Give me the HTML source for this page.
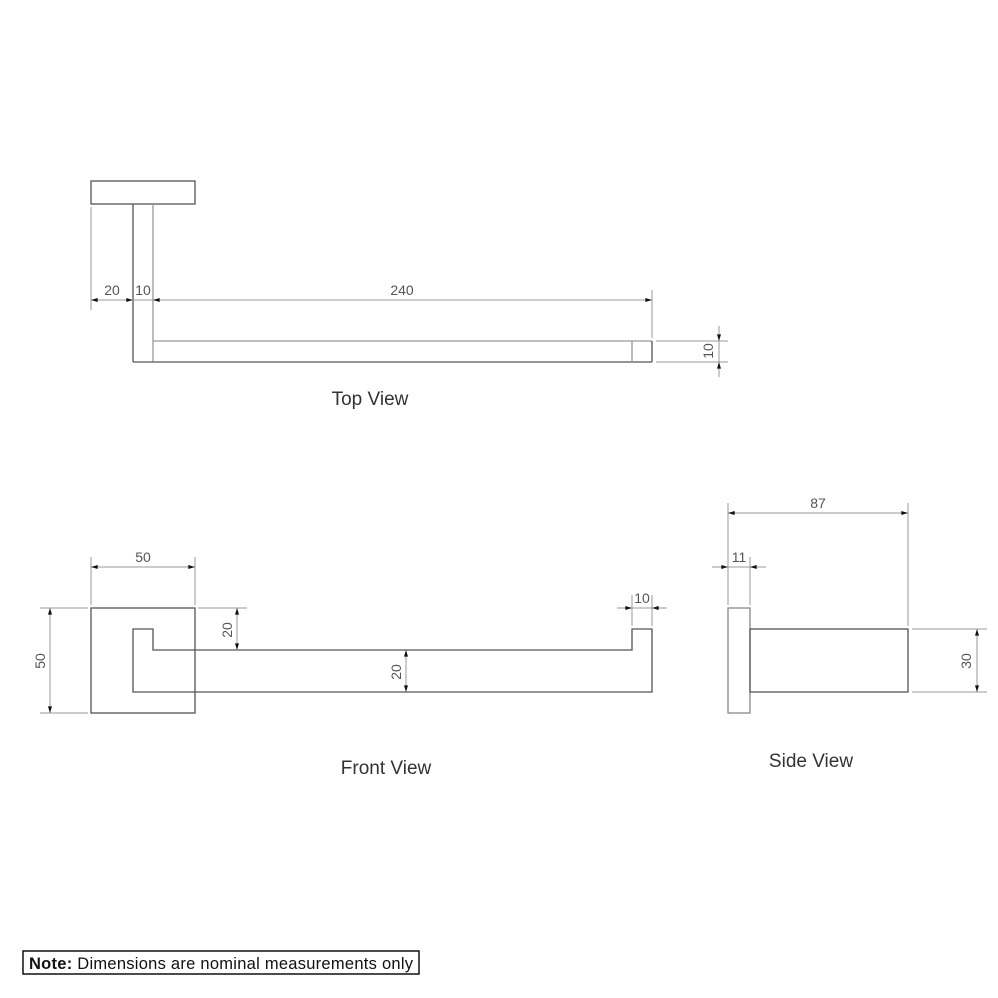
<!DOCTYPE html>
<html><head><style>
html,body{margin:0;padding:0;background:#fff;}
svg{display:block;}
text{font-family:"Liberation Sans","DejaVu Sans",sans-serif;fill:#333;}
.o{stroke:#555;stroke-width:1.3;fill:none;}
.g{stroke:#aaa;stroke-width:1;fill:none;}
.d{stroke:#999;stroke-width:1;fill:none;}
.dim{font-size:14px;fill:#555;}
.lbl{font-size:19px;fill:#333;}
</style></head><body>
<svg width="998" height="998" viewBox="0 0 998 998" xmlns="http://www.w3.org/2000/svg">
<defs>
<marker id="a" viewBox="0 0 10 6" refX="10" refY="3" markerWidth="8" markerHeight="4" orient="auto-start-reverse" markerUnits="userSpaceOnUse"><path d="M0,0L10,3L0,6z" fill="#111"/></marker>
</defs>
<!-- TOP VIEW -->
<rect class="o" x="91" y="181" width="104" height="23" fill="#fff"/>
<line class="o" x1="133" y1="204" x2="133" y2="362"/>
<line class="g" x1="153" y1="204" x2="153" y2="362" style="stroke:#999;stroke-width:1.3"/>
<line class="g" x1="153" y1="341" x2="652" y2="341" style="stroke:#999;stroke-width:1.3"/>
<line class="o" x1="133" y1="362" x2="652" y2="362"/>
<line class="o" x1="652" y1="341" x2="652" y2="362"/>
<line class="g" x1="632" y1="341" x2="632" y2="362" style="stroke:#999;stroke-width:1.3"/>
<line class="d" x1="91" y1="207" x2="91" y2="310"/>
<line class="d" x1="652" y1="290" x2="652" y2="338"/>
<line class="d" x1="91" y1="300" x2="133" y2="300" marker-start="url(#a)" marker-end="url(#a)"/>
<line class="d" x1="133" y1="300" x2="153" y2="300"/>
<line class="d" x1="153" y1="300" x2="652" y2="300" marker-start="url(#a)" marker-end="url(#a)"/>
<text class="dim" x="112" y="295" text-anchor="middle">20</text>
<text class="dim" x="143" y="295" text-anchor="middle">10</text>
<text class="dim" x="402" y="295" text-anchor="middle">240</text>
<line class="d" x1="656" y1="341" x2="728" y2="341"/>
<line class="d" x1="656" y1="362" x2="728" y2="362"/>
<line class="d" x1="719" y1="326" x2="719" y2="341" marker-end="url(#a)"/>
<line class="d" x1="719" y1="377" x2="719" y2="362" marker-end="url(#a)"/>
<line class="d" x1="719" y1="341" x2="719" y2="362"/>
<text class="dim" x="713" y="351" text-anchor="middle" transform="rotate(-90 713 351)">10</text>
<text class="lbl" x="370" y="405" text-anchor="middle">Top View</text>
<!-- FRONT VIEW -->
<rect class="o" x="91" y="608" width="104" height="105"/>
<polygon class="o" points="133,629 153,629 153,650 632,650 632,629 652,629 652,692 133,692" fill="#fff"/>
<line class="d" x1="91" y1="557" x2="91" y2="605"/>
<line class="d" x1="195" y1="557" x2="195" y2="605"/>
<line class="d" x1="91" y1="567" x2="195" y2="567" marker-start="url(#a)" marker-end="url(#a)"/>
<text class="dim" x="143" y="562" text-anchor="middle">50</text>
<line class="d" x1="40" y1="608" x2="88" y2="608"/>
<line class="d" x1="40" y1="713" x2="88" y2="713"/>
<line class="d" x1="50" y1="608" x2="50" y2="713" marker-start="url(#a)" marker-end="url(#a)"/>
<text class="dim" x="45" y="661" text-anchor="middle" transform="rotate(-90 45 661)">50</text>
<line class="d" x1="198" y1="608" x2="247" y2="608"/>
<line class="d" x1="237" y1="608" x2="237" y2="650" marker-start="url(#a)" marker-end="url(#a)"/>
<text class="dim" x="232" y="630" text-anchor="middle" transform="rotate(-90 232 630)">20</text>
<line class="d" x1="406" y1="650" x2="406" y2="692" marker-start="url(#a)" marker-end="url(#a)"/>
<text class="dim" x="401" y="672" text-anchor="middle" transform="rotate(-90 401 672)">20</text>
<line class="d" x1="632" y1="595" x2="632" y2="626"/>
<line class="d" x1="652" y1="595" x2="652" y2="626"/>
<line class="d" x1="617" y1="608" x2="632" y2="608" marker-end="url(#a)"/>
<line class="d" x1="667" y1="608" x2="652" y2="608" marker-end="url(#a)"/>
<line class="d" x1="632" y1="608" x2="652" y2="608"/>
<text class="dim" x="642" y="603" text-anchor="middle">10</text>
<text class="lbl" x="386" y="774" text-anchor="middle">Front View</text>
<!-- SIDE VIEW -->
<rect class="o" x="728" y="608" width="22" height="105" style="stroke:#888"/>
<rect class="o" x="750" y="629" width="158" height="63"/>
<line class="d" x1="728" y1="503" x2="728" y2="605"/>
<line class="d" x1="908" y1="503" x2="908" y2="626"/>
<line class="d" x1="728" y1="513" x2="908" y2="513" marker-start="url(#a)" marker-end="url(#a)"/>
<text class="dim" x="818" y="508" text-anchor="middle">87</text>
<line class="d" x1="750" y1="557" x2="750" y2="605"/>
<line class="d" x1="712" y1="567" x2="728" y2="567" marker-end="url(#a)"/>
<line class="d" x1="766" y1="567" x2="750" y2="567" marker-end="url(#a)"/>
<line class="d" x1="728" y1="567" x2="750" y2="567"/>
<text class="dim" x="739" y="562" text-anchor="middle">11</text>
<line class="d" x1="912" y1="629" x2="987" y2="629"/>
<line class="d" x1="912" y1="692" x2="987" y2="692"/>
<line class="d" x1="977" y1="629" x2="977" y2="692" marker-start="url(#a)" marker-end="url(#a)"/>
<text class="dim" x="971" y="661" text-anchor="middle" transform="rotate(-90 971 661)">30</text>
<text class="lbl" x="811" y="767" text-anchor="middle">Side View</text>
<!-- NOTE -->
<rect x="23" y="951" width="396" height="23" fill="#fff" stroke="#111" stroke-width="1.5"/>
<text x="29" y="969" style="font-size:16.5px;fill:#111" textLength="384" lengthAdjust="spacing"><tspan font-weight="bold">Note:</tspan> Dimensions are nominal measurements only</text>
</svg>
</body></html>
